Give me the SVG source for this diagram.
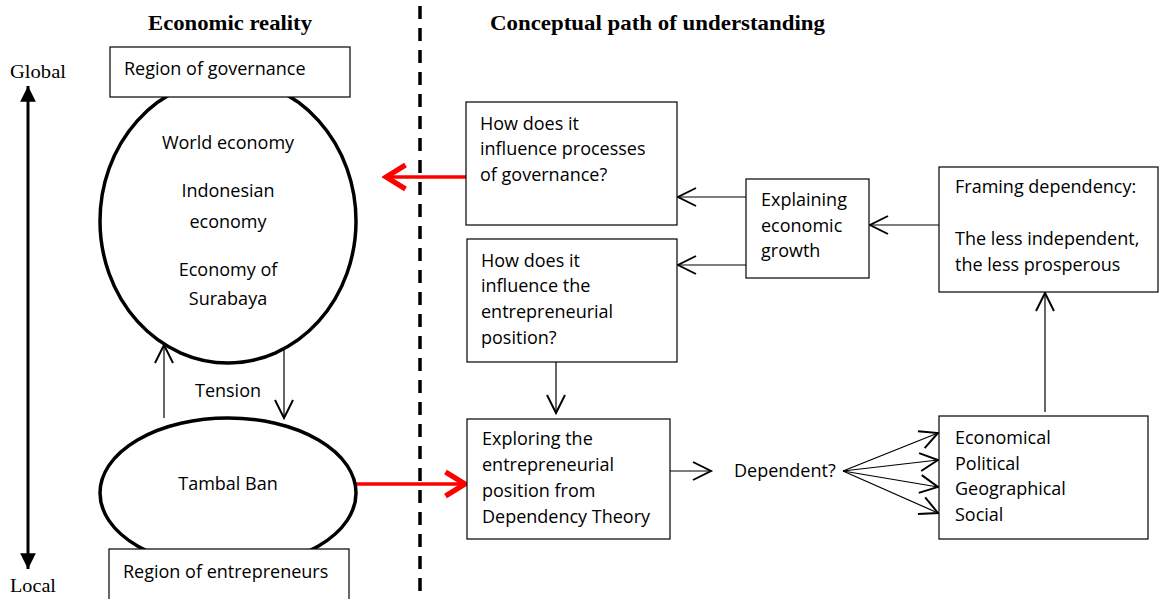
<svg xmlns="http://www.w3.org/2000/svg" width="1159" height="599" viewBox="0 0 1159 599">
<defs>
<style>
.t{font-family:"Open Sans","Liberation Sans",sans-serif;font-size:18px;fill:#000}
.h{font-family:"Liberation Serif","DejaVu Serif",serif;font-size:22px;font-weight:bold;fill:#000}
.s{font-family:"Liberation Serif","DejaVu Serif",serif;font-size:19px;fill:#000}
.box{fill:#fff;stroke:#000;stroke-width:1.2}
.ell{fill:#fff;stroke:#000;stroke-width:3.5}
.ln{stroke:#000;stroke-width:1.2;fill:none}
.red{stroke:#f00;stroke-width:3.5;fill:none}
</style>
<marker id="a" markerUnits="userSpaceOnUse" markerWidth="24" markerHeight="24" viewBox="-14 -8 16 16" refX="0" refY="0" orient="auto">
<polyline points="-12,-6 0,0 -12,6" fill="none" stroke="#000" stroke-width="1.3"/>
</marker>
<marker id="r" markerUnits="userSpaceOnUse" markerWidth="30" markerHeight="30" viewBox="-16 -10 18 20" refX="0" refY="0" orient="auto">
<polyline points="-13,-8 0,0 -13,8" fill="none" stroke="#f00" stroke-width="3.5"/>
</marker>
<marker id="k" markerUnits="userSpaceOnUse" markerWidth="20" markerHeight="20" viewBox="-12 -7 14 14" refX="0" refY="0" orient="auto">
<polygon points="-11,-5.5 0,0 -11,5.5" fill="#000"/>
</marker>
</defs>
<rect width="1159" height="599" fill="#fff"/>
<text class="h" x="148" y="30" textLength="164" lengthAdjust="spacingAndGlyphs">Economic reality</text>
<text class="h" x="490" y="30" textLength="335" lengthAdjust="spacingAndGlyphs">Conceptual path of understanding</text>
<text class="s" x="10" y="78" textLength="56" lengthAdjust="spacingAndGlyphs">Global</text>
<text class="s" x="10" y="592" textLength="46" lengthAdjust="spacingAndGlyphs">Local</text>
<line x1="420" y1="6" x2="420" y2="599" stroke="#000" stroke-width="3.5" stroke-dasharray="13,9"/>
<g id="connectors">
<line x1="28" y1="300" x2="28" y2="86" stroke="#000" stroke-width="3" marker-end="url(#k)"/>
<line x1="28" y1="300" x2="28" y2="569" stroke="#000" stroke-width="3" marker-end="url(#k)"/>
<line class="ln" x1="164" y1="418" x2="164" y2="345" marker-end="url(#a)"/>
<line class="ln" x1="284" y1="345" x2="284" y2="418" marker-end="url(#a)"/>
<line class="red" x1="466" y1="177" x2="386" y2="177" marker-end="url(#r)"/>
<line class="red" x1="356" y1="484" x2="465" y2="484" marker-end="url(#r)"/>
<line class="ln" x1="746" y1="197" x2="678" y2="197" marker-end="url(#a)"/>
<line class="ln" x1="746" y1="265" x2="678" y2="265" marker-end="url(#a)"/>
<line class="ln" x1="939" y1="225" x2="870" y2="225" marker-end="url(#a)"/>
<line class="ln" x1="1045" y1="412" x2="1045" y2="293" marker-end="url(#a)"/>
<line class="ln" x1="556" y1="362" x2="556" y2="413" marker-end="url(#a)"/>
<line class="ln" x1="670" y1="471" x2="711" y2="471" marker-end="url(#a)"/>
<line class="ln" x1="843" y1="471" x2="938" y2="433" marker-end="url(#a)"/>
<line class="ln" x1="843" y1="471" x2="938" y2="460" marker-end="url(#a)"/>
<line class="ln" x1="843" y1="471" x2="938" y2="487" marker-end="url(#a)"/>
<line class="ln" x1="843" y1="471" x2="938" y2="513" marker-end="url(#a)"/>
</g>
<g id="world">
<ellipse class="ell" cx="228" cy="221" rx="128" ry="142"/>
<text class="t" x="228" y="149" text-anchor="middle">World economy</text>
<text class="t" x="228" y="197" text-anchor="middle">Indonesian</text>
<text class="t" x="228" y="228" text-anchor="middle">economy</text>
<text class="t" x="228" y="276" text-anchor="middle">Economy of</text>
<text class="t" x="228" y="305" text-anchor="middle">Surabaya</text>
</g>
<g id="governance"><rect class="box" x="110" y="47" width="240" height="50"/><text class="t" x="124" y="75">Region of governance</text></g>
<g id="tension"><text class="t" x="228" y="397" text-anchor="middle">Tension</text></g>
<g id="tambal"><ellipse class="ell" cx="228" cy="493" rx="128" ry="75"/><text class="t" x="228" y="490" text-anchor="middle">Tambal Ban</text></g>
<g id="entrepreneurs"><rect class="box" x="109" y="549" width="240" height="60"/><text class="t" x="123" y="578">Region of entrepreneurs</text></g>
<g id="q1"><rect class="box" x="466" y="102" width="211" height="123"/>
<text class="t" x="480" y="130">How does it</text><text class="t" x="480" y="155">influence processes</text><text class="t" x="480" y="181">of governance?</text></g>
<g id="q2"><rect class="box" x="467" y="239" width="210" height="123"/>
<text class="t" x="481" y="267">How does it</text><text class="t" x="481" y="292">influence the</text><text class="t" x="481" y="318">entrepreneurial</text><text class="t" x="481" y="344">position?</text></g>
<g id="explain"><rect class="box" x="746" y="179" width="123" height="99"/>
<text class="t" x="761" y="206">Explaining</text><text class="t" x="761" y="232">economic</text><text class="t" x="761" y="257">growth</text></g>
<g id="framing"><rect class="box" x="939" y="167" width="219" height="125"/>
<text class="t" x="955" y="193">Framing dependency:</text><text class="t" x="955" y="245">The less independent,</text><text class="t" x="955" y="271">the less prosperous</text></g>
<g id="explore"><rect class="box" x="467" y="419" width="203" height="120"/>
<text class="t" x="482" y="445">Exploring the</text><text class="t" x="482" y="471">entrepreneurial</text><text class="t" x="482" y="497">position from</text><text class="t" x="482" y="523">Dependency Theory</text></g>
<g id="dependent"><text class="t" x="734" y="477">Dependent?</text></g>
<g id="factors"><rect class="box" x="939" y="416" width="209" height="123"/>
<text class="t" x="955" y="444">Economical</text><text class="t" x="955" y="470">Political</text><text class="t" x="955" y="495">Geographical</text><text class="t" x="955" y="521">Social</text></g>
</svg>
